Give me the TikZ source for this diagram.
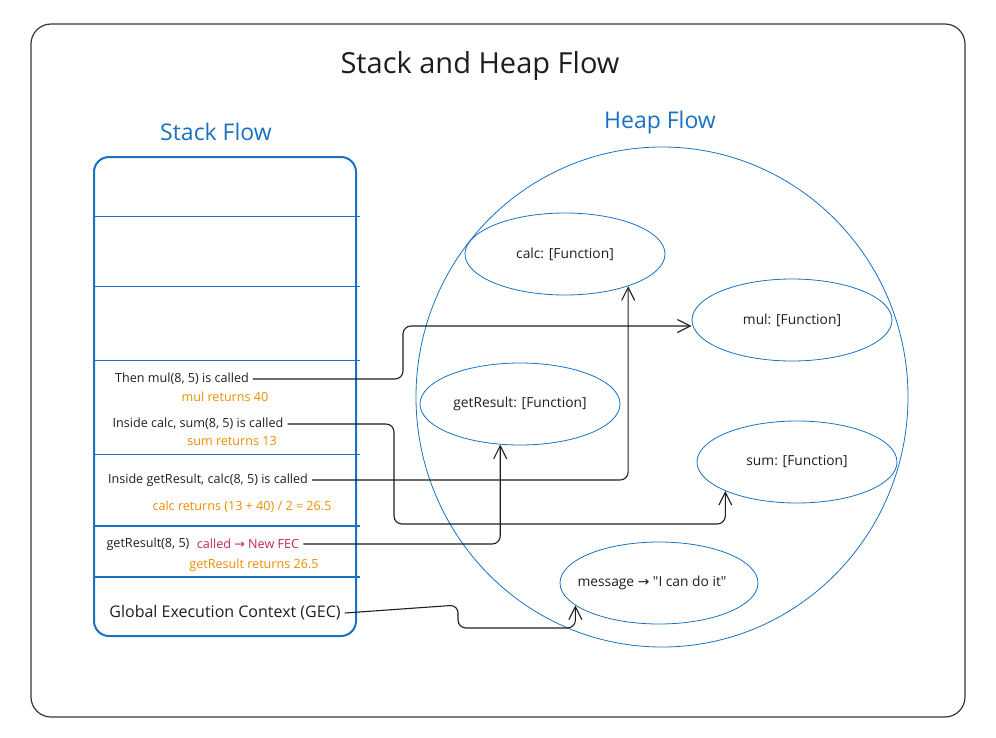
\documentclass[tikz,border=0pt]{standalone}
\usepackage{fontspec}
\setmainfont{Open Sans}
\newfontfamily\arrowfont{DejaVu Sans}
\usetikzlibrary{arrows.meta,shapes.geometric}
\definecolor{inkdark}{HTML}{1E1E1E}
\definecolor{stackblue}{HTML}{1971C2}
\definecolor{retorange}{HTML}{F08C00}
\definecolor{fecpink}{HTML}{C2255C}
\newcommand{\rarr}{{\arrowfont\char"2192}}
\tikzset{
 frame/.style={
 draw=inkdark!90,
 line width=1.2pt,
 rounded corners=20pt
 },
 stackbox/.style={
 draw=stackblue,
 line width=2pt,
 rounded corners=15pt
 },
 stackline/.style={draw=stackblue, line width=1pt},
 heading/.style={text=stackblue, font=\fontsize{23}{27}\selectfont},
 calltext/.style={text=inkdark, inner sep=4pt, font=\fontsize{12.6}{15}\selectfont},
 rettext/.style={text=retorange, inner sep=2pt, font=\fontsize{12.6}{15}\selectfont},
 heapobj/.style={
 ellipse,
 draw=stackblue,
 line width=0.8pt,
 minimum width=200pt,
 minimum height=82pt,
 text=inkdark,
 font=\fontsize{13.8}{16}\selectfont
 },
 flowarrow/.style={-{Straight Barb[length=13pt,width=13pt]}, line width=1.1pt, draw=inkdark, rounded corners=8pt}
}

\begin{document}
\begin{tikzpicture}[x=1pt, y=-1pt]
	\useasboundingbox (0,0) rectangle (996,737);
	\draw[frame] (31,24) rectangle (965,717);
	\node[text=inkdark, font=\fontsize{29}{34}\selectfont] (title) at (480,66) {Stack and Heap Flow};
	\node[heading] (stackhead) at (216,132) {Stack Flow};
	\node[heading] (heaphead) at (660,123) {Heap Flow};

	% stack frames
	\draw[stackbox] (94,157) rectangle (356,636);
	\foreach \y in {216,286,360,454}
		\draw[stackline] (94,\y) -- (360,\y);
	\foreach \y in {526,577}
		\draw[stackline, line width=1.8pt] (94,\y) -- (360,\y);

	\node[calltext] (callmul) at (182,379) {Then mul(8, 5) is called};
	\node[rettext] (retmul) at (225,397) {mul returns 40};
	\node[calltext] (callsum) at (198,424) {Inside calc, sum(8, 5) is called};
	\node[rettext] (retsum) at (232,441) {sum returns 13};
	\node[calltext] (callcalc) at (208,480) {Inside getResult, calc(8, 5) is called};
	\node[rettext] (retcalc) at (242,507) {calc returns (13 + 40) / 2 = 26.5};
	\node[calltext] (fecargs) at (148,544) {getResult(8, 5)};
	\node[calltext, text=fecpink] (fectext) at (248,544) {called \rarr{} New FEC};
	\node[rettext] (retres) at (254,565) {getResult returns 26.5};
	\node[calltext, font=\fontsize{16}{19}\selectfont] (gec) at (225,613) {Global Execution Context (GEC)};

	% heap
	\draw[stackblue, line width=0.8pt] (662,397) ellipse [x radius=246, y radius=250];
	\node[heapobj] (calcobj) at (565,254) {calc: [Function]};
	\node[heapobj] (mulobj) at (792,320) {mul: [Function]};
	\node[heapobj] (resobj) at (520,404) {getResult: [Function]};
	\node[heapobj] (sumobj) at (797,462) {sum: [Function]};
	\node[heapobj, minimum width=198pt, label={[text=inkdark, font=\fontsize{13.8}{16}\selectfont, xshift=-7pt]center:message \rarr{} \textquotedbl I can do it\textquotedbl}] (msgobj) at (659,583) {};

	\draw[flowarrow] (callmul.east) -- (403,379) |- ([yshift=-6pt]mulobj.west);
	\draw[flowarrow] (callsum.east) -- (394,424) -- (394,524) -| (sumobj.-158);
	\draw[flowarrow] (callcalc.east) -| (calcobj.-27);
	\draw[flowarrow] (fectext.east) -| (resobj.-116);
	\draw[flowarrow] (gec.east) -- (458,605) -- (458,628) -| (msgobj.-165);
\end{tikzpicture}
\end{document}
